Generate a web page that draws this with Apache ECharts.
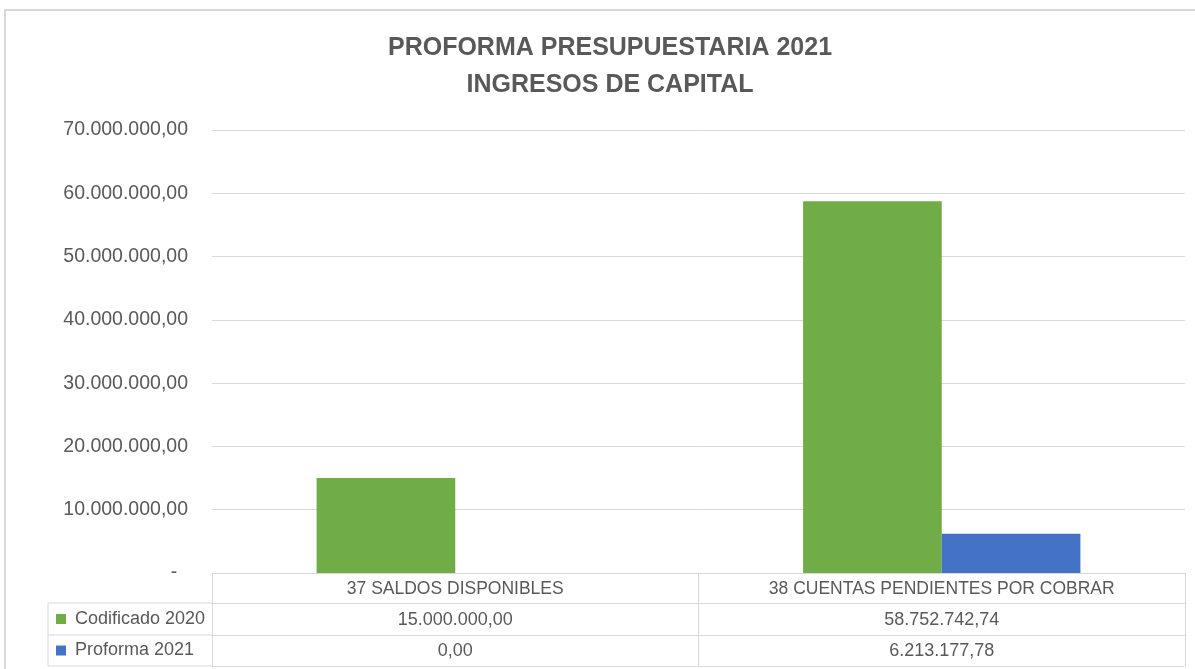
<!DOCTYPE html>
<html>
<head>
<meta charset="utf-8">
<script src="https://cdn.jsdelivr.net/npm/echarts@6/dist/echarts.min.js"></script>
<style>
  html, body { margin: 0; padding: 0; background: #fff; }
  #chart { width: 1195px; height: 669px; }
</style>
</head>
<body>
<div id="chart"></div>
<script>
// Datos
const categories = ['37 SALDOS DISPONIBLES', '38 CUENTAS PENDIENTES POR COBRAR'];
const codificado2020 = [15000000.00, 58752742.74];
const proforma2021 = [0.00, 6213177.78];
const seriesNames = ['Codificado 2020', 'Proforma 2021'];
const yMax = 70000000;
const yStep = 10000000;

const GREEN = '#70AD47';
const BLUE = '#4472C4';
const TEXT = '#595959';
const LINE = '#D9D9D9';
const FONT = '"Liberation Sans", Arial, sans-serif';

// formato 1.234.567,89
function fmt(v) {
    const parts = v.toFixed(2).split('.');
    return parts[0].replace(/\B(?=(\d{3})+(?!\d))/g, '.') + ',' + parts[1];
}

// grid
const gLeft = 212, gRight = 10, gTop = 130, gBottom = 96;
const axisY = 669 - gBottom;   // linea del cero
const rowOff = [0, 30, 62, 93]; // filas de la tabla
const legendX = 48;

const chart = echarts.init(document.getElementById('chart'));

function tableAxis(idx, labels, size) {
    return {
        type: 'category',
        gridIndex: 0,
        position: 'bottom',
        offset: rowOff[idx],
        data: categories,
        boundaryGap: true,
        axisLine: { show: true, lineStyle: { color: LINE, width: 1 } },
        axisTick: idx === 0
            ? { show: true, length: rowOff[3], alignWithLabel: false, interval: 0, lineStyle: { color: LINE } }
            : { show: false },
        axisLabel: labels ? {
            show: true, interval: 0, margin: (rowOff[idx + 1] - rowOff[idx]) / 2 + 1,
            verticalAlign: 'middle', color: TEXT, fontSize: size, fontFamily: FONT,
            formatter: (v, i) => labels[i]
        } : { show: false },
        splitLine: { show: false }
    };
}

const tableLines = [];
for (let k = 1; k < rowOff.length; k++) {
    tableLines.push({
        type: 'line', silent: true,
        shape: { x1: legendX, y1: axisY + rowOff[k], x2: gLeft, y2: axisY + rowOff[k] },
        style: { stroke: LINE, lineWidth: 1 }
    });
}
tableLines.push({
    type: 'line', silent: true,
    shape: { x1: legendX, y1: axisY + rowOff[1], x2: legendX, y2: axisY + rowOff[3] },
    style: { stroke: LINE, lineWidth: 1 }
});

function legendRow(name, k) {
    return {
        data: [{ name: name, icon: 'rect' }],
        left: 56, top: axisY + (rowOff[k] + rowOff[k + 1]) / 2 - 9, padding: 0,
        itemWidth: 10, itemHeight: 10, selectedMode: false,
        textStyle: { color: TEXT, fontSize: 18, fontFamily: FONT, padding: [0, 0, 0, 4] }
    };
}

chart.setOption({
    animation: false,
    backgroundColor: '#fff',
    title: {
        text: 'PROFORMA PRESUPUESTARIA 2021\nINGRESOS DE CAPITAL',
        left: 610,
        top: 30,
        padding: 0,
        textAlign: 'center',
        textStyle: { color: TEXT, fontSize: 25, fontWeight: 'bold', fontFamily: FONT, lineHeight: 37 }
    },
    legend: [legendRow(seriesNames[0], 1), legendRow(seriesNames[1], 2)],
    grid: { left: gLeft, right: gRight, top: gTop, bottom: gBottom, containLabel: false },
    xAxis: [
        tableAxis(0, categories, 17.5),
        tableAxis(1, codificado2020.map(fmt), 18),
        tableAxis(2, proforma2021.map(fmt), 18),
        tableAxis(3, null, 18)
    ],
    yAxis: {
        type: 'value',
        min: 0, max: yMax, interval: yStep,
        axisLine: { show: false },
        axisTick: { show: false },
        axisLabel: {
            color: TEXT, fontSize: 19.5, fontFamily: FONT, margin: 24,
            formatter: v => v === 0 ? '-  ' : fmt(v)
        },
        splitLine: { lineStyle: { color: LINE, width: 1 } }
    },
    series: [
        {
            name: seriesNames[0], type: 'bar', xAxisIndex: 0,
            data: codificado2020, itemStyle: { color: GREEN },
            barGap: '0%', barCategoryGap: '43%'
        },
        {
            name: seriesNames[1], type: 'bar', xAxisIndex: 0,
            data: proforma2021, itemStyle: { color: BLUE },
            barGap: '0%', barCategoryGap: '43%'
        }
    ],
    graphic: [
        {
            type: 'rect', silent: true, z: -1,
            shape: { x: 5, y: 10, width: 1300, height: 800 },
            style: { fill: 'none', stroke: LINE, lineWidth: 2 }
        }
    ].concat(tableLines)
});
</script>
</body>
</html>
